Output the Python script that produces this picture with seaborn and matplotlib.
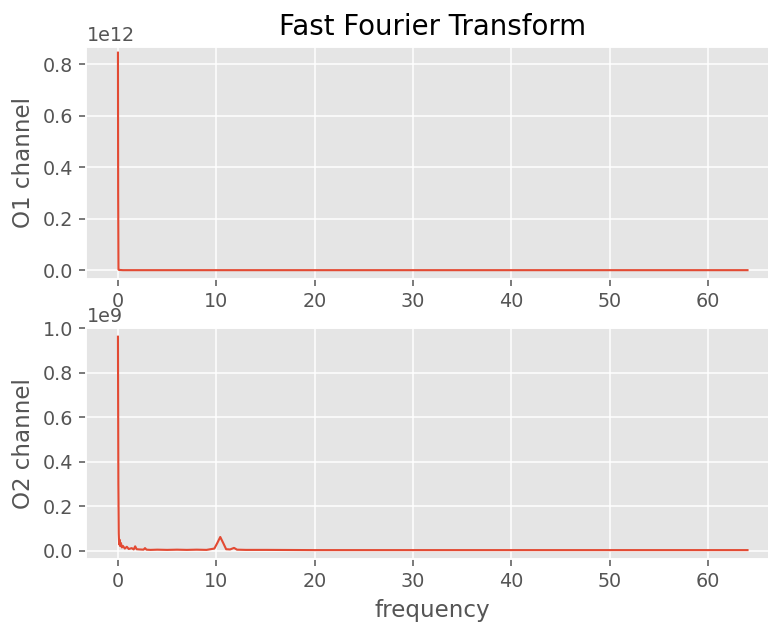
import matplotlib
matplotlib.use("Agg")
import matplotlib.pyplot as plt
import seaborn as sns
import pandas as pd

plt.style.use("ggplot")

# Power spectrum of the O1 electrode (a single DC spike, then flat)
freq_o1 = [0.0, 0.02, 0.05, 0.1, 0.5, 1.0, 2.0, 5.0, 10.0, 20.0, 30.0, 40.0, 50.0, 60.0, 64.0]
power_o1 = [0.845e12, 0.30e12, 0.004e12, 0.002e12, 0.001e12, 0.001e12, 0.001e12,
            0.001e12, 0.001e12, 0.001e12, 0.001e12, 0.001e12, 0.001e12, 0.001e12, 0.001e12]

# Power spectrum of the O2 electrode (DC spike, low-frequency noise, alpha peak near 10.5 Hz)
freq_o2 = [0.0, 0.04, 0.08, 0.12, 0.16, 0.2, 0.3, 0.4, 0.5, 0.7, 0.9, 1.1, 1.4,
           1.6, 1.75, 1.9, 2.2, 2.6, 2.75, 2.9, 3.3, 4.0, 5.0, 6.0, 7.0, 8.0, 9.0,
           9.8, 10.1, 10.4, 10.7, 11.0, 11.4, 11.8, 12.1, 13.0, 15.0, 20.0, 30.0,
           40.0, 50.0, 60.0, 64.0]
power_o2 = [0.962e9, 0.30e9, 0.078e9, 0.030e9, 0.050e9, 0.022e9, 0.035e9, 0.015e9,
            0.022e9, 0.010e9, 0.018e9, 0.008e9, 0.012e9, 0.006e9, 0.020e9, 0.007e9,
            0.006e9, 0.005e9, 0.012e9, 0.005e9, 0.004e9, 0.005e9, 0.004e9, 0.005e9,
            0.004e9, 0.005e9, 0.004e9, 0.010e9, 0.035e9, 0.062e9, 0.035e9, 0.007e9,
            0.006e9, 0.013e9, 0.005e9, 0.004e9, 0.004e9, 0.003e9, 0.003e9, 0.003e9,
            0.003e9, 0.003e9, 0.003e9]

df_o1 = pd.DataFrame({"frequency": freq_o1, "power": power_o1})
df_o2 = pd.DataFrame({"frequency": freq_o2, "power": power_o2})

dpi = 138
fig = plt.figure(figsize=(768 / dpi, 623 / dpi), dpi=dpi)
ax1 = fig.add_axes([0.1126, 0.5527, 0.9017, 0.3723])
ax2 = fig.add_axes([0.1126, 0.1027, 0.9017, 0.3708])

line_color = "#E24A33"
sns.lineplot(data=df_o1, x="frequency", y="power", ax=ax1, color=line_color, lw=1.1)
sns.lineplot(data=df_o2, x="frequency", y="power", ax=ax2, color=line_color, lw=1.1)

for ax in (ax1, ax2):
    ax.set_xlim(-3.2, 67.2)
    ax.set_xticks([0, 10, 20, 30, 40, 50, 60])

ax1.set_ylim(-0.032e12, 0.868e12)
ax1.set_yticks([0.0, 0.2e12, 0.4e12, 0.6e12, 0.8e12])
ax1.ticklabel_format(axis="y", style="sci", scilimits=(12, 12))
ax2.set_ylim(-0.037e9, 1.001e9)
ax2.ticklabel_format(axis="y", style="sci", scilimits=(9, 9))

ax1.set_title("Fast Fourier Transform")
ax1.set_xlabel("")
ax1.set_ylabel("O1 channel")
ax2.set_xlabel("frequency")
ax2.set_ylabel("O2 channel")

fig.savefig("out.png", dpi=dpi)
